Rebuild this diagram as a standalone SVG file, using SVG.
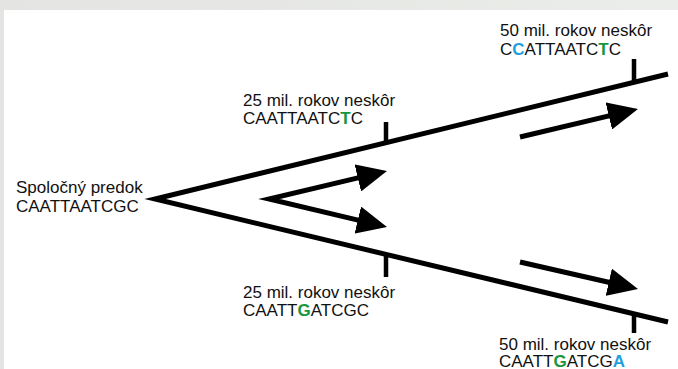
<svg xmlns="http://www.w3.org/2000/svg" width="678" height="369" viewBox="0 0 678 369">
<defs>
<linearGradient id="bg" x1="0" y1="0" x2="1" y2="0">
<stop offset="0" stop-color="#e4e4e2"/>
<stop offset="1" stop-color="#eaede9"/>
</linearGradient>
<marker id="ah" viewBox="0 -14 30 28" refX="10" refY="0" markerWidth="30" markerHeight="28" markerUnits="userSpaceOnUse" orient="auto-start-reverse">
<path d="M0,-14 L30,0 L0,14 z" fill="#000"/>
</marker>
<style>
.ln{fill:none;stroke:#000;stroke-width:5;stroke-linejoin:miter;stroke-miterlimit:20}
.tk{stroke:#000;stroke-width:4.5}
.ar{fill:none;stroke:#000;stroke-width:5;stroke-linejoin:miter;stroke-miterlimit:20}
text{font-family:"Liberation Sans",Arial,sans-serif;font-size:17px;fill:#111}
.g{fill:#16963c;font-weight:bold}
.b{fill:#1e9fe0;font-weight:bold}
</style>
</defs>
<rect x="0" y="0" width="678" height="369" fill="url(#bg)"/>
<rect x="4" y="10" width="674" height="359" fill="#fff"/>
<g id="connectors">
<path class="ln" d="M668,74 L155,199 L668,322"/>
<line class="tk" x1="386" y1="122" x2="386" y2="143"/>
<line class="tk" x1="634" y1="59" x2="634" y2="83"/>
<line class="tk" x1="386" y1="255" x2="386" y2="277"/>
<line class="tk" x1="634" y1="314" x2="634" y2="333"/>
<path class="ar" d="M367.5,175.6 L269,199 L367.5,222.4" marker-start="url(#ah)" marker-end="url(#ah)"/>
<line class="ar" x1="520" y1="137" x2="618.5" y2="113.6" marker-end="url(#ah)"/>
<line class="ar" x1="520" y1="262" x2="618.5" y2="284.5" marker-end="url(#ah)"/>
</g>
<g id="ancestor">
<text x="16" y="193">Spoločný predok</text>
<text x="16" y="212">CAATTAATCGC</text>
</g>
<g id="upper25">
<text x="243" y="106">25 mil. rokov neskôr</text>
<text x="243" y="124">CAATTAATC<tspan class="g">T</tspan>C</text>
</g>
<g id="upper50">
<text x="500" y="36">50 mil. rokov neskôr</text>
<text x="500" y="55">C<tspan class="b">C</tspan>ATTAATC<tspan class="g">T</tspan>C</text>
</g>
<g id="lower25">
<text x="243" y="298">25 mil. rokov neskôr</text>
<text x="243" y="316">CAATT<tspan class="g">G</tspan>ATCGC</text>
</g>
<g id="lower50">
<text x="499" y="350">50 mil. rokov neskôr</text>
<text x="499" y="367">CAATT<tspan class="g">G</tspan>ATCG<tspan class="b">A</tspan></text>
</g>
</svg>
